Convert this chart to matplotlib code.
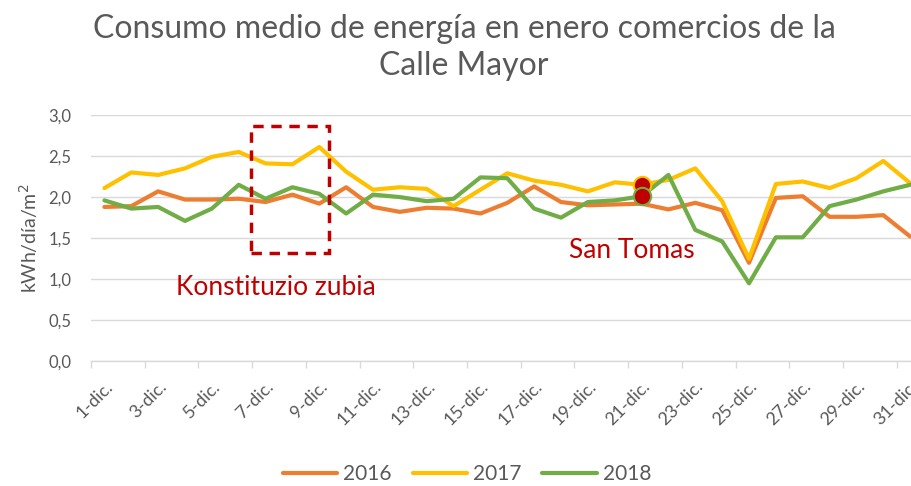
import matplotlib

matplotlib.use("Agg")
import matplotlib.pyplot as plt
from matplotlib.patches import Rectangle
from matplotlib.ticker import FuncFormatter

plt.rcParams["font.family"] = ["Lato", "DejaVu Sans"]

DAYS = [f"{d}-dic." for d in range(1, 32)]
Y2016 = [1.88, 1.89, 2.07, 1.97, 1.97, 1.98, 1.94, 2.03, 1.92, 2.12,
         1.88, 1.82, 1.87, 1.86, 1.80, 1.93, 2.13, 1.94, 1.90, 1.91,
         1.92, 1.85, 1.93, 1.84, 1.20, 1.99, 2.01, 1.76, 1.76, 1.78, 1.52]
Y2017 = [2.11, 2.30, 2.27, 2.35, 2.49, 2.55, 2.41, 2.40, 2.61, 2.31,
         2.09, 2.12, 2.10, 1.89, 2.09, 2.29, 2.20, 2.15, 2.07, 2.18,
         2.15, 2.21, 2.35, 1.95, 1.25, 2.16, 2.19, 2.11, 2.23, 2.44, 2.17]
Y2018 = [1.96, 1.86, 1.88, 1.71, 1.86, 2.15, 1.98, 2.12, 2.04, 1.80,
         2.03, 2.00, 1.95, 1.98, 2.24, 2.23, 1.86, 1.75, 1.94, 1.96,
         2.01, 2.27, 1.60, 1.46, 0.95, 1.51, 1.51, 1.89, 1.97, 2.07, 2.15]
SERIES = [("2016", Y2016, "#ED7D31"), ("2017", Y2017, "#FFC000"), ("2018", Y2018, "#70AD47")]
HIGHLIGHT_DAY = 20  # "San Tomas" (21-dic.)

GREY = "#595959"
RED = "#C00000"

fig = plt.figure(figsize=(9.12, 4.86), dpi=100)
ax = fig.add_axes([91 / 912, 124.7 / 486, 832.6 / 912, 246.3 / 486])

x = list(range(len(DAYS)))
for name, ys, col in SERIES:
    ax.plot(x, ys, color=col, lw=3.0, solid_capstyle="round", label=name, zorder=3)

# highlighted day markers
for ys, col in [(Y2017, "#FFC000"), (Y2018, "#70AD47")]:
    ax.plot(x[HIGHLIGHT_DAY], ys[HIGHLIGHT_DAY], "o", ms=12.5, mfc=RED, mec=col, mew=1.5, zorder=4)

ax.set_xlim(-0.5, len(DAYS) - 0.5)
ax.set_ylim(0, 3.0)
ax.set_yticks([0, 0.5, 1.0, 1.5, 2.0, 2.5, 3.0])
ax.yaxis.set_major_formatter(FuncFormatter(lambda v, _: f"{v:.1f}".replace(".", ",")))
ax.grid(axis="y", color="#D9D9D9", lw=1.0, zorder=0)
for s in ["top", "right", "left"]:
    ax.spines[s].set_visible(False)
ax.spines["bottom"].set_color("#D9D9D9")
ax.spines["bottom"].set_linewidth(1.0)

ax.set_xticks(x[::2])
ax.set_xticklabels(DAYS[::2], rotation=45, ha="right", va="top", rotation_mode="anchor")
ax.set_xticks([i - 0.5 for i in x[::2]], minor=True)
ax.tick_params(axis="x", which="major", length=0, pad=12, labelsize=13, labelcolor=GREY)
ax.tick_params(axis="x", which="minor", length=5, color="#D9D9D9", width=1.0)
ax.tick_params(axis="y", length=0, pad=14, labelsize=12, labelcolor=GREY)
ax.set_ylabel("kWh/día/m$^2$", fontsize=14, color=GREY, labelpad=6)

# annotations
ax.add_patch(Rectangle((5.45, 1.32), 2.9, 1.55, fill=False, ec=RED, lw=2.5,
                       ls=(0, (3, 2.2)), zorder=5))
ax.text(6.4, 0.90, "Konstituzio zubia", color=RED, fontsize=19, ha="center", va="center")
ax.text(19.65, 1.35, "San Tomas", color=RED, fontsize=19, ha="center", va="center")

fig.suptitle("Consumo medio de energía en enero comercios de la\nCalle Mayor",
             x=464 / 912, y=0.971, fontsize=23, color=GREY, linespacing=1.3)

fig.legend(loc="center", bbox_to_anchor=(467 / 912, 1 - 474 / 486), ncol=3, frameon=False,
           fontsize=15, handlelength=2.6, handletextpad=0.3, columnspacing=1.0,
           labelcolor=GREY)

fig.savefig("out.png", dpi=100)
